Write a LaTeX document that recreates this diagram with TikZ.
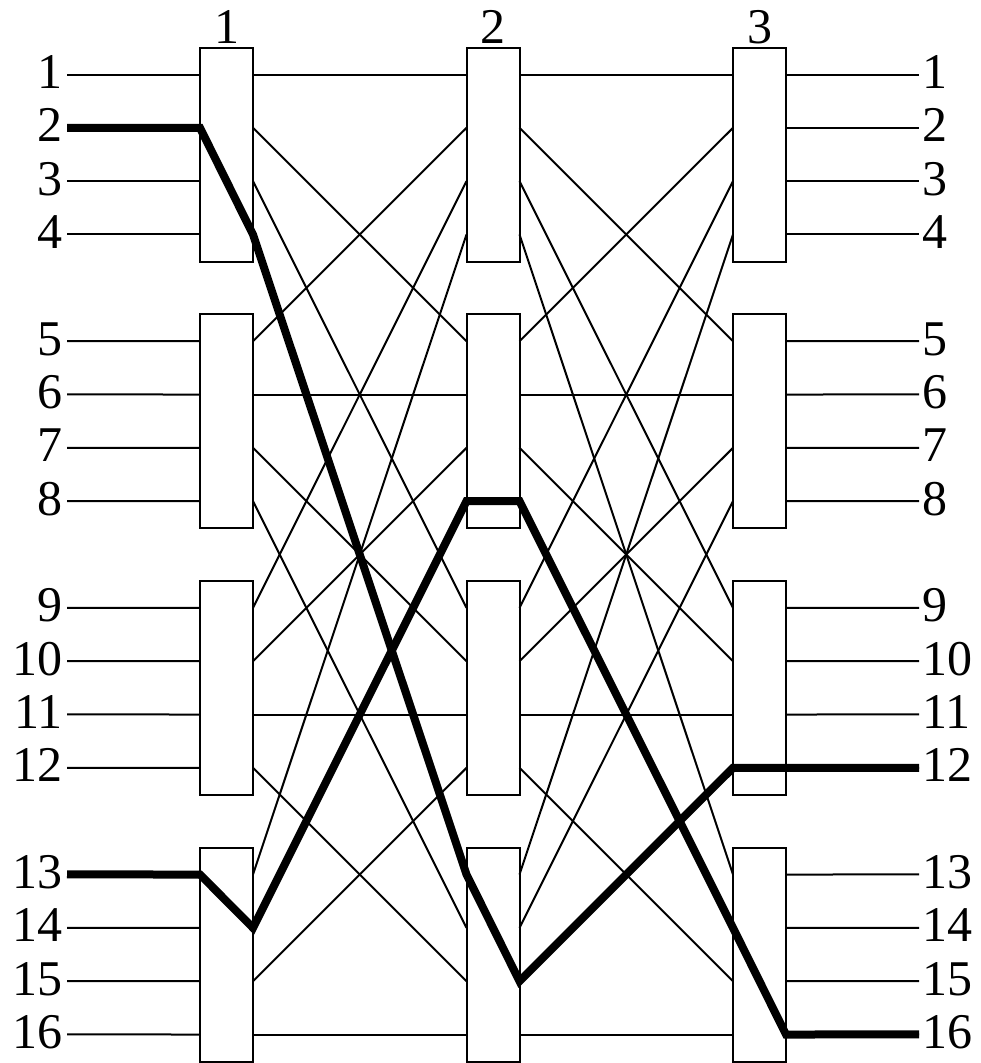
\documentclass[tikz,border=0pt]{standalone}
\usepackage{fontspec}
\setmainfont{Liberation Serif}
\begin{document}
\begin{tikzpicture}[x=1pt,y=-1pt,
  switchbox/.style={draw, fill=white, line width=2pt, minimum width=53pt, minimum height=214pt, inner sep=0pt, outer sep=0pt},
  wire/.style={line width=2pt},
  heavy/.style={line width=8pt},
  num/.style={font=\fontsize{50}{50}\selectfont, inner sep=0pt}]
\useasboundingbox (0,0) rectangle (980,1063);
\foreach \s in {1,2,3} {
  \pgfmathsetmacro{\cx}{226.5+266.5*(\s-1)}
  \node[num, anchor=base] (t\s) at (\cx,43) {\s};
  \foreach \b in {1,...,4} {
    \pgfmathsetmacro{\cx}{226.5+266.5*(\s-1)}
    \pgfmathsetmacro{\cy}{154.5+266.67*(\b-1)}
    \node[switchbox] (s\s b\b) at (\cx,\cy) {};
    \foreach \p in {1,...,4} {
      \pgfmathtruncatemacro{\g}{4*(\b-1)+\p}
      \pgfmathsetmacro{\py}{74.5+53.33*(\p-1)+266.67*(\b-1)}
      \coordinate (i\s-\g) at (\cx-26.5,\py);
      \coordinate (o\s-\g) at (\cx+26.5,\py);
    }
  }
}
\foreach \g in {1,...,16} {
  \pgfmathsetmacro{\py}{74.5+53.33*(\g-1)+53.33*floor((\g-1)/4)}
  \node[num, anchor=base east] (nl\g) at (63,\py+14) {\g};
  \node[num, anchor=base west] (nr\g) at (922,\py+14) {\g};
  \coordinate (L\g) at (67,\py);
  \coordinate (R\g) at (919,\py);
  \draw[wire] (L\g) -- (i1-\g);
  \draw[wire] (o3-\g) -- (R\g);
}
\foreach \s/\t in {1/2,2/3} {
  \foreach \b in {1,...,4} {
    \foreach \j in {1,...,4} {
      \pgfmathtruncatemacro{\src}{4*(\b-1)+\j}
      \pgfmathtruncatemacro{\dst}{4*(\j-1)+\b}
      \draw[wire] (o\s-\src) -- (i\t-\dst);
    }
  }
}
\draw[heavy] (L2) -- (i1-2) -- (o1-4) -- (i2-13) -- (o2-15) -- (i3-12) -- (o3-12) -- (R12);
\draw[heavy] (L13) -- (i1-13) -- (o1-14) -- (i2-8) -- (o2-8) -- (i3-14) -- (o3-16) -- (R16);
\end{tikzpicture}
\end{document}
